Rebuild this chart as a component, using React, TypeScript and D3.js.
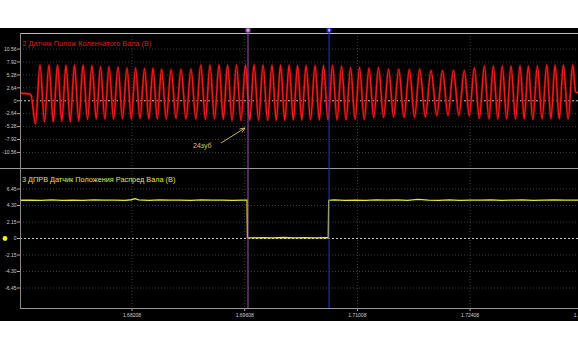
import React from "react";
import * as d3 from "d3";

// ---------- data ----------
const xTicks = [1.68208, 1.69608, 1.71008, 1.72408, 1.73808];
const crankTicks = [10.56, 7.92, 5.28, 2.64, 0, -2.64, -5.28, -7.92, -10.56];
const crankTickLabels = ["10.56", "7.92", "5.28", "2.64", "0", "-2.64", "-5.28", "-7.92", "-10.56"];
const camTicks = [6.45, 4.3, 2.15, 0, -2.15, -4.3, -6.45];
const camTickLabels = ["6.45", "4.30", "2.15", "0", "-2.15", "-4.30", "-6.45"];

const crankTitle = "2 Датчик Полож Коленчатого Вала (В)";
const camTitle = "3 ДПРВ Датчик Положения Распред Вала (В)";
const annotation = "24зуб";

// crank sensor: times (s) and voltages (V) of each peak and trough
const crankPeakT = [
  1.67065, 1.67177, 1.67283, 1.67388, 1.67494, 1.676, 1.67711, 1.67817, 1.67923, 1.68034,
  1.68146, 1.68252, 1.68364, 1.68469, 1.68575, 1.68693, 1.68817, 1.68941, 1.69062, 1.69177,
  1.69289, 1.69395, 1.69506, 1.69618, 1.69724, 1.69836, 1.69947, 1.70053, 1.70159, 1.70264,
  1.7037, 1.70482, 1.70587, 1.70699, 1.70811, 1.70923, 1.71034, 1.71152, 1.7127, 1.71395,
  1.71521, 1.71653, 1.71782, 1.71922, 1.72065, 1.722, 1.72336, 1.7246, 1.72585, 1.72696,
  1.72808, 1.72916, 1.73028, 1.73131, 1.73243, 1.7336, 1.73463, 1.73566, 1.73683,
];
const crankPeakV = [
  7.3, 7.3, 7.3, 7.25, 7.3, 7.3, 7.2, 7.0, 7.0, 6.9,
  6.7, 6.7, 6.6, 6.7, 6.45, 6.4, 6.45, 6.5, 7.3, 7.3,
  7.35, 7.3, 7.3, 7.3, 7.35, 7.3, 7.3, 7.3, 7.3, 7.2,
  7.2, 7.2, 7.2, 7.2, 7.1, 6.8, 6.8, 6.7, 6.8, 6.5,
  6.5, 6.4, 6.5, 6.2, 6.2, 6.25, 6.2, 6.7, 7.1, 7.1,
  7.1, 7.1, 7.15, 7.1, 7.1, 7.3, 7.3, 7.3, 7.3,
];
const crankTroughT = [
  1.6701, 1.67121, 1.6723, 1.67336, 1.67441, 1.67547, 1.67656, 1.67764, 1.6787, 1.67979,
  1.6809, 1.68199, 1.68308, 1.68417, 1.68522, 1.68634, 1.68755, 1.68879, 1.69002, 1.6912,
  1.69233, 1.69342, 1.69451, 1.69562, 1.69671, 1.6978, 1.69892, 1.7, 1.70106, 1.70212,
  1.70317, 1.70426, 1.70535, 1.70643, 1.70755, 1.70867, 1.70979, 1.71093, 1.71211, 1.71333,
  1.71458, 1.71587, 1.71718, 1.71852, 1.71994, 1.72133, 1.72268, 1.72398, 1.72523, 1.72641,
  1.72752, 1.72862, 1.72972, 1.7308, 1.73187, 1.73302, 1.73412, 1.73515, 1.73625,
];
const crankTroughV = [
  -4.7, -4.3, -4.3, -4.2, -4.3, -4.2, -3.8, -3.7, -3.7, -3.7,
  -3.6, -3.7, -3.6, -3.7, -3.7, -3.7, -3.6, -3.7, -3.7, -3.8,
  -3.7, -3.8, -4.0, -4.0, -4.0, -4.0, -4.0, -4.0, -4.0, -3.9,
  -3.9, -3.9, -3.9, -3.9, -3.9, -3.9, -3.8, -3.8, -3.4, -3.4,
  -3.3, -3.4, -3.4, -3.3, -3.0, -3.0, -3.0, -3.1, -3.6, -3.7,
  -3.7, -3.7, -3.7, -3.7, -3.8, -3.7, -3.7, -3.7, -3.7,
];
const crankStartT = [1.66817, 1.6688, 1.66935, 1.66955];
const crankStartV = [1.55, 1.5, 1.4, 1.1];
const crankEndT = [1.73716, 1.73728, 1.73748];
const crankEndV = [2.0, 1.7, 1.7];

// camshaft sensor: times (s) and voltages (V)
const camT = [
  1.66817, 1.6695, 1.6708, 1.6721, 1.6734, 1.6747, 1.676, 1.6773, 1.6786, 1.6799,
  1.6812, 1.682, 1.68246, 1.6829, 1.6842, 1.6855, 1.6868, 1.6881, 1.6894, 1.6907,
  1.692, 1.6933, 1.6946, 1.6959, 1.69637, 1.69642, 1.697, 1.6983, 1.6996, 1.7009,
  1.7022, 1.7035, 1.7048, 1.706, 1.70646, 1.70651, 1.7072, 1.7085, 1.7098, 1.7111,
  1.7124, 1.7137, 1.715, 1.7163, 1.71761, 1.7189, 1.7202, 1.7215, 1.7228, 1.7241,
  1.7254, 1.7267, 1.728, 1.7293, 1.7306, 1.7319, 1.7332, 1.7345, 1.7358, 1.73748,
];
const camV = [
  4.98, 5.0, 4.96, 5.02, 4.98, 5.01, 4.97, 5.03, 4.99, 5.01,
  4.97, 5.05, 5.18, 5.02, 4.98, 5.03, 4.99, 5.01, 4.97, 5.02,
  4.99, 5.01, 4.98, 5.0, 4.99, 0.12, 0.08, 0.12, 0.09, 0.13,
  0.08, 0.11, 0.09, 0.12, 0.1, 4.98, 5.02, 4.98, 5.01, 4.97,
  5.02, 4.99, 5.03, 4.98, 5.1, 5.0, 4.97, 5.02, 4.98, 5.01,
  4.99, 5.03, 4.97, 5.0, 5.02, 4.98, 5.01, 5.04, 4.99, 5.0,
];

const cursorT = [1.69649, 1.70656];
const cursorColors = ["#9a4fb0", "#2a32d8"];

// ---------- layout ----------
const W = 578;
const H = 350;
const left = 20;
const topPanel = { y0: 33, y1: 168.5, range: 13.84 };
const botPanel = { y0: 168.5, y1: 308.5, range: 9.12 };

const font = "'Liberation Sans', Arial, sans-serif";

export default function App() {
  const x = d3.scaleLinear().domain([1.66817, 1.73748]).range([left, W]);
  const yTop = d3.scaleLinear().domain([-topPanel.range, topPanel.range]).range([topPanel.y1, topPanel.y0]);
  const yBot = d3.scaleLinear().domain([-botPanel.range, botPanel.range]).range([botPanel.y1, botPanel.y0]);

  const crank: { t: number; v: number }[] = [];
  crankStartT.forEach((t, i) => crank.push({ t, v: crankStartV[i] }));
  crankPeakT.forEach((t, i) => {
    crank.push({ t: crankTroughT[i], v: crankTroughV[i] });
    crank.push({ t, v: crankPeakV[i] });
  });
  crankEndT.forEach((t, i) => crank.push({ t, v: crankEndV[i] }));
  const cam = camT.map((t, i) => ({ t, v: camV[i] }));

  const crankLine = d3
    .line<{ t: number; v: number }>()
    .x((d) => x(d.t))
    .y((d) => yTop(d.v))
    .curve(d3.curveMonotoneX);
  const camLine = d3
    .line<{ t: number; v: number }>()
    .x((d) => x(d.t))
    .y((d) => yBot(d.v));

  const gridColor = "#3c3c3c";

  return (
    <div style={{ position: "fixed", left: 0, top: 0, width: W, height: H, background: "#fff" }}>
      <svg width={W} height={H} style={{ display: "block" }}>
        <defs>
          <clipPath id="plotClip">
            <rect x={left + 1} y={33} width={W - left} height={276} />
          </clipPath>
        </defs>
        <rect x={0} y={0} width={W} height={H} fill="#fff" />
        <rect x={0} y={28} width={W} height={293} fill="#000" />

        {/* vertical dotted grid */}
        {xTicks.map((t) => (
          <line key={"vg" + t} x1={x(t)} x2={x(t)} y1={33} y2={308} stroke={gridColor} strokeDasharray="1,2" />
        ))}
        {/* horizontal grid, top panel */}
        {crankTicks.map((v) => (
          <line
            key={"hgt" + v}
            x1={left}
            x2={W}
            y1={yTop(v)}
            y2={yTop(v)}
            stroke={v === 0 ? "#c8c8c8" : gridColor}
            strokeDasharray={v === 0 ? "2,2" : "1,2"}
          />
        ))}
        {camTicks.map((v) => (
          <line
            key={"hgb" + v}
            x1={left}
            x2={W}
            y1={yBot(v)}
            y2={yBot(v)}
            stroke={v === 0 ? "#c8c8c8" : gridColor}
            strokeDasharray={v === 0 ? "2,2" : "1,2"}
          />
        ))}

        {/* panel borders */}
        <line x1={left} x2={W} y1={33.5} y2={33.5} stroke="#bdbdbd" />
        <line x1={0} x2={W} y1={168.5} y2={168.5} stroke="#9a9a9a" />
        <line x1={left} x2={W} y1={308.5} y2={308.5} stroke="#9a9a9a" />
        <line x1={left + 0.5} x2={left + 0.5} y1={33} y2={309} stroke="#8a8a8a" />

        {/* y-axis ticks & labels */}
        {crankTicks.map((v, i) => (
          <g key={"yt" + v}>
            <line x1={17} x2={20} y1={yTop(v)} y2={yTop(v)} stroke="#aaa" />
            <text x={16.5} y={yTop(v) + 1.8} fontSize={5} fill="#cfcfcf" textAnchor="end" fontFamily={font}>
              {crankTickLabels[i]}
            </text>
          </g>
        ))}
        {camTicks.map((v, i) => (
          <g key={"yb" + v}>
            <line x1={17} x2={20} y1={yBot(v)} y2={yBot(v)} stroke="#aaa" />
            <text x={16.5} y={yBot(v) + 1.8} fontSize={5} fill="#cfcfcf" textAnchor="end" fontFamily={font}>
              {camTickLabels[i]}
            </text>
          </g>
        ))}

        {/* x-axis labels */}
        {xTicks.map((t) => (
          <g key={"xt" + t}>
            <line x1={x(t)} x2={x(t)} y1={309} y2={311} stroke="#aaa" />
            <text x={x(t)} y={316.8} fontSize={5} fill="#cfcfcf" textAnchor="middle" fontFamily={font}>
              {t.toFixed(5)}
            </text>
          </g>
        ))}

        {/* titles */}
        <text x={22.5} y={46} fontSize={7.3} fill="#d42424" fontFamily={font}>
          {crankTitle}
        </text>
        <text x={22} y={181.5} fontSize={7.3} fill="#e2e244" fontFamily={font}>
          {camTitle}
        </text>

        {/* traces */}
        <g clipPath="url(#plotClip)">
          <path d={crankLine(crank) || ""} fill="none" stroke="#7a0000" strokeWidth={3} strokeOpacity={0.6} />
          <path d={crankLine(crank) || ""} fill="none" stroke="#ec1c1c" strokeWidth={1.5} />
          <path d={camLine(cam) || ""} fill="none" stroke="#e8e832" strokeWidth={1.3} />
        </g>

        {/* cursors */}
        {cursorT.map((t, i) => (
          <g key={"c" + t}>
            <line x1={x(t)} x2={x(t)} y1={29} y2={308} stroke={cursorColors[i]} strokeWidth={1} />
            <rect x={x(t) - 2.5} y={28} width={5} height={4.5} rx={1} fill={cursorColors[i]} />
            <rect x={x(t) - 0.7} y={29} width={1.4} height={2.5} fill="#e8e0f0" />
          </g>
        ))}

        {/* zero marker of camshaft channel */}
        <circle cx={5} cy={yBot(0)} r={2.4} fill="#f0f020" />

        {/* annotation */}
        <text x={193} y={148} fontSize={7} fill="#dcc266" fontFamily={font}>
          {annotation}
        </text>
        <line x1={221} y1={143} x2={245} y2={128} stroke="#dcc266" strokeWidth={0.9} />
        <line x1={245} y1={128} x2={239.5} y2={129} stroke="#dcc266" strokeWidth={0.9} />
        <line x1={245} y1={128} x2={242} y2={132.5} stroke="#dcc266" strokeWidth={0.9} />
      </svg>
    </div>
  );
}
